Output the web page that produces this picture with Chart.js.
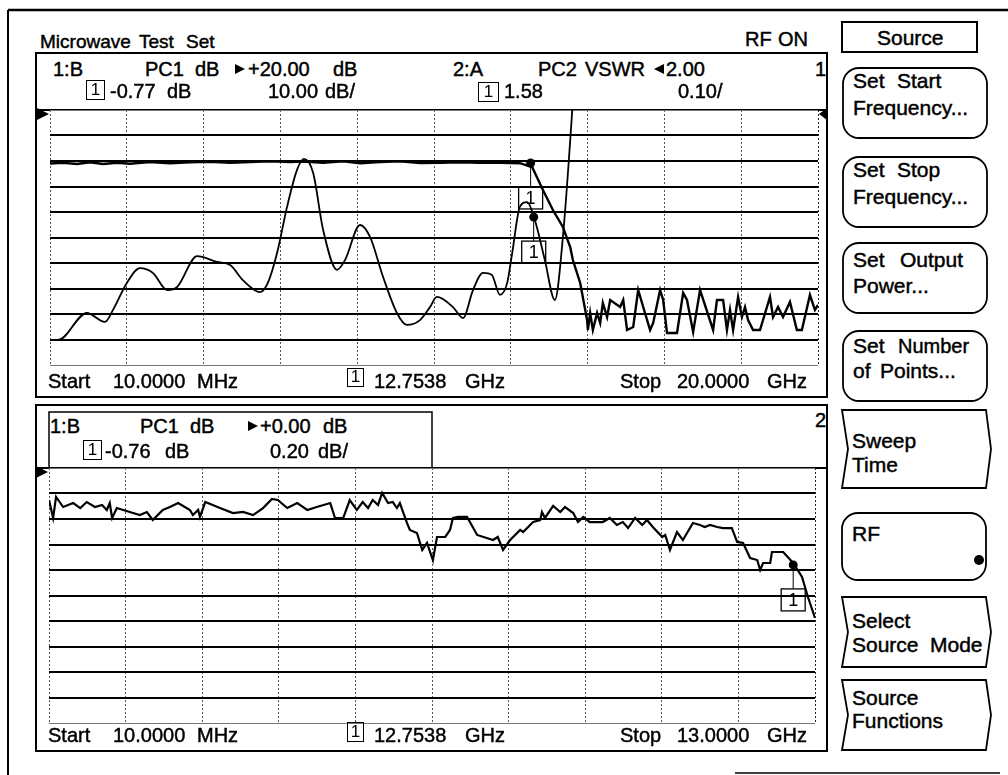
<!DOCTYPE html>
<html>
<head>
<meta charset="utf-8">
<script src="https://cdn.jsdelivr.net/npm/chart.js@4.4.1/dist/chart.umd.min.js"></script>
<style>
  body { margin: 0; background: #fff; }
  #screen { position: relative; width: 1008px; height: 775px; overflow: hidden; background: #fff;
            font-family: "Liberation Sans", Arial, sans-serif; color: #000; }
  #screen canvas, #screen svg { position: absolute; }
  .t { position: absolute; white-space: pre; -webkit-text-stroke: 0.45px #000; }
  .box { position: absolute; border: 1.5px solid #000; box-sizing: border-box; text-align: center;
         font-size: 17px; line-height: 17px; }
</style>
</head>
<body>
<div id="screen">
  <svg id="shapes" width="1008" height="775" style="left:0;top:0"></svg>
  <canvas id="topChart" width="791" height="275" style="left:36px;top:100px;width:791px;height:275px"></canvas>
  <canvas id="botChart" width="791" height="275" style="left:36px;top:458px;width:791px;height:275px"></canvas>
</div>
<script>
// trace 1 (B, PC1 dB), 10 MHz - 20 GHz
const topFreqDb = [0.01,0.35,0.71,1.05,1.39,1.75,2.09,2.61,3.13,3.65,4.17,4.70,5.22,5.74,6.26,6.60,
  7.12,7.64,8.08,8.60,9.12,9.64,10.16,10.68,11.20,11.72,12.24,12.56,12.84,13.10,13.36,13.55,13.62,13.81,13.99,
  14.01,14.07,14.14,14.25,14.33,14.40,14.51,14.59,14.85,14.93,15.03,15.19,15.32,15.45,15.63,15.71,15.89,15.97,
  16.07,16.33,16.49,16.59,16.75,16.93,17.27,17.37,17.53,17.63,17.71,17.79,17.92,18.02,18.10,18.18,18.31,18.49,
  18.75,18.83,18.96,19.09,19.27,19.45,19.58,19.79,19.92,20.00];
const topDb = [-0.98,-0.67,-1.18,-0.51,-1.18,-0.67,-1.06,-0.39,-0.86,-0.51,-0.27,-0.67,-0.39,-0.12,-0.39,-0.2,
  -0.67,-0.12,-0.86,-0.39,-0.12,-0.78,-0.67,-0.51,-0.67,-0.67,-0.86,-2.35,-11.37,-19.22,-25.88,-33.73,-38.82,-47.84,-62.35,
  -66.27,-59.61,-66.27,-59.61,-63.53,-55.69,-61.18,-54.51,-57.25,-54.51,-66.27,-65.10,-50.59,-57.25,-66.27,-63.53,-50.59,-54.51,
  -67.45,-67.45,-51.76,-54.51,-67.06,-50.59,-66.27,-54.51,-54.51,-66.27,-58.43,-66.27,-53.33,-61.18,-57.25,-62.35,-66.27,-66.27,
  -53.33,-61.18,-57.25,-61.18,-55.29,-66.27,-66.27,-52.55,-58.43,-56.47];

// trace 2 (A, PC2 VSWR)
const topFreqVswr = [0.01,0.22,0.97,1.44,1.65,2.01,2.35,2.69,3.06,3.32,3.84,4.36,4.70,5.03,5.48,5.68,5.92,6.18,6.44,6.62,
  6.86,7.12,7.48,7.69,8.08,8.34,8.68,9.04,9.30,9.64,9.90,10.08,10.50,10.76,11.02,11.28,11.51,11.72,11.91,12.04,
  12.24,12.43,12.63,12.89,13.15,13.36,13.60,13.85];
const topVswr = [1.098,1.098,1.204,1.169,1.216,1.322,1.380,1.361,1.294,1.306,1.427,1.404,1.392,1.333,1.286,1.322,1.439,1.620,1.765,1.808,
  1.753,1.529,1.373,1.412,1.549,1.502,1.345,1.204,1.157,1.176,1.227,1.267,1.227,1.184,1.294,1.361,1.353,1.275,1.322,1.439,
  1.620,1.639,1.569,1.412,1.255,1.502,1.992,2.60];

// lower trace (B, PC1 dB), 10 MHz - 13 GHz
const botFreq = [0.01,0.08,0.13,0.25,0.42,0.54,0.65,0.79,0.91,0.99,1.04,1.08,1.16,1.38,1.55,1.67,1.77,1.94,2.06,2.20,
  2.40,2.45,2.54,2.57,2.66,2.91,3.13,3.30,3.47,3.64,3.79,3.89,4.05,4.22,4.39,4.55,4.78,4.86,5.00,5.11,
  5.23,5.33,5.42,5.50,5.59,5.66,5.76,5.84,5.91,5.96,6.08,6.13,6.25,6.34,6.42,6.52,6.59,6.73,6.81,6.86,
  6.95,7.10,7.27,7.54,7.62,7.71,7.83,8.00,8.05,8.22,8.34,8.37,8.42,8.56,8.68,8.76,8.90,8.98,9.07,9.18,
  9.40,9.52,9.64,9.74,9.83,9.95,10.07,10.15,10.25,10.41,10.46,10.54,10.66,10.76,10.93,11.05,11.13,11.22,11.34,11.44,
  11.59,11.68,11.78,11.90,12.02,12.07,12.12,12.24,12.27,12.46,12.63,12.78,12.88,13.00];
const botDb = [-0.251,-0.392,-0.227,-0.306,-0.275,-0.314,-0.267,-0.306,-0.290,-0.329,-0.275,-0.392,-0.314,-0.345,-0.369,-0.345,-0.408,-0.329,-0.306,-0.275,
  -0.329,-0.369,-0.329,-0.384,-0.267,-0.314,-0.353,-0.345,-0.369,-0.314,-0.243,-0.251,-0.314,-0.275,-0.329,-0.306,-0.275,-0.392,-0.392,-0.251,
  -0.329,-0.267,-0.314,-0.251,-0.290,-0.196,-0.275,-0.267,-0.314,-0.275,-0.431,-0.486,-0.510,-0.643,-0.588,-0.722,-0.541,-0.541,-0.486,-0.392,
  -0.384,-0.384,-0.525,-0.565,-0.541,-0.643,-0.565,-0.486,-0.502,-0.424,-0.408,-0.345,-0.392,-0.298,-0.345,-0.306,-0.353,-0.424,-0.384,-0.424,
  -0.424,-0.392,-0.447,-0.424,-0.471,-0.392,-0.447,-0.408,-0.463,-0.541,-0.525,-0.643,-0.502,-0.565,-0.431,-0.447,-0.463,-0.447,-0.463,-0.471,
  -0.471,-0.580,-0.588,-0.706,-0.722,-0.800,-0.745,-0.745,-0.659,-0.659,-0.745,-0.855,-1.012,-1.176];

// sweep and scale settings (start/stop GHz, reference level, per division)
const topSweep = [0.01, 20];
const botSweep = [0.01, 13];
const topDbScale = [20, 10];
const topVswrScale = [2.00, 0.10];
const botDbScale = [0, 0.20];
const divisions = 10;

// marker 1 positions as seen on the traces
const topMarkers = [{ f: 12.52, v: -0.77, axis: 'y' }, { f: 12.60, v: 1.58, axis: 'y2' }];
const botMarkers = [{ f: 12.63, v: -0.76, axis: 'y' }];

function divTicks(axis) {
  const ticks = [];
  for (let i = 0; i <= divisions; i++) ticks.push({ value: axis.min + (axis.max - axis.min) * i / divisions });
  axis.ticks = ticks;
}

function markerPlugin(list, refs) {
  return {
    id: 'markers',
    afterDatasetsDraw(chart) {
      const { ctx, scales, chartArea } = chart;
      ctx.save();
      ctx.fillStyle = '#000';
      ctx.strokeStyle = '#000';
      // reference level arrows
      refs.forEach(r => {
        const y = scales[r.axis].getPixelForValue(r.v) + 4;
        ctx.beginPath();
        if (r.side === 'left') {
          ctx.moveTo(chartArea.left - 13, y - 6);
          ctx.lineTo(chartArea.left - 1, y);
          ctx.lineTo(chartArea.left - 13, y + 6);
        } else {
          ctx.moveTo(chartArea.right + 9, y - 6);
          ctx.lineTo(chartArea.right + 1, y);
          ctx.lineTo(chartArea.right + 9, y + 6);
        }
        ctx.closePath();
        ctx.fill();
      });
      list.forEach(m => {
        const x = scales.x.getPixelForValue(m.f);
        const y = scales[m.axis].getPixelForValue(m.v);
        ctx.beginPath();
        ctx.arc(x, y, 4.5, 0, Math.PI * 2);
        ctx.fill();
        ctx.lineWidth = 1;
        ctx.beginPath();
        ctx.moveTo(x, y);
        ctx.lineTo(x, y + 24);
        ctx.stroke();
        ctx.lineWidth = 1.3;
        ctx.strokeRect(x - 12, y + 24, 24, 22);
        ctx.font = '18px "Liberation Sans", Arial, sans-serif';
        ctx.textAlign = 'center';
        ctx.textBaseline = 'middle';
        ctx.fillText('1', x, y + 36);
      });
      ctx.restore();
    }
  };
}

function xAxis(sweep) {
  return {
    type: 'linear', min: sweep[0], max: sweep[1], afterBuildTicks: divTicks,
    ticks: { display: false },
    grid: { drawTicks: false, color: c => c.index === divisions ? '#222' : '#555', lineWidth: 1 },
    border: { display: false, dash: [2, 2] }
  };
}

function yAxis(scale) {
  return {
    min: scale[0] - scale[1] * divisions, max: scale[0], afterBuildTicks: divTicks,
    ticks: { display: false },
    grid: {
      drawTicks: false,
      color: c => (c.index === 0 || c.index === divisions) ? '#777' : '#000',
      lineWidth: c => (c.index === 0 || c.index === divisions) ? 1 : 2
    },
    border: { display: false }
  };
}

const baseOptions = {
  animation: false, responsive: false, maintainAspectRatio: false,
  plugins: { legend: { display: false }, tooltip: { enabled: false } }
};

new Chart(document.getElementById('topChart'), {
  type: 'line',
  data: {
    datasets: [
      { data: topFreqDb.map((f, i) => ({ x: f, y: topDb[i] })), yAxisID: 'y',
        borderColor: '#000', borderWidth: 2.4, pointRadius: 0, tension: 0 },
      { data: topFreqVswr.map((f, i) => ({ x: f, y: topVswr[i] })), yAxisID: 'y2',
        borderColor: '#000', borderWidth: 1.8, pointRadius: 0, cubicInterpolationMode: 'monotone' }
    ]
  },
  options: {
    ...baseOptions,
    layout: { padding: { left: 14, right: 9, top: 10, bottom: 10 } },
    scales: {
      x: xAxis(topSweep),
      y: yAxis(topDbScale),
      y2: { display: false, min: topVswrScale[0] - topVswrScale[1] * divisions, max: topVswrScale[0] }
    }
  },
  plugins: [markerPlugin(topMarkers, [
    { axis: 'y', v: topDbScale[0], side: 'left' },
    { axis: 'y2', v: topVswrScale[0], side: 'right' }
  ])]
});

new Chart(document.getElementById('botChart'), {
  type: 'line',
  data: {
    datasets: [
      { data: botFreq.map((f, i) => ({ x: f, y: botDb[i] })), yAxisID: 'y',
        borderColor: '#000', borderWidth: 2.2, pointRadius: 0, tension: 0 }
    ]
  },
  options: {
    ...baseOptions,
    layout: { padding: { left: 13, right: 12, top: 10, bottom: 10 } },
    scales: { x: xAxis(botSweep), y: yAxis(botDbScale) }
  },
  plugins: [markerPlugin(botMarkers, [{ axis: 'y', v: botDbScale[0], side: 'left' }])]
});

// frames, softkeys
const svg = document.getElementById('shapes');
let s = '';
const line = (x1, y1, x2, y2, w) => s += `<line x1="${x1}" y1="${y1}" x2="${x2}" y2="${y2}" stroke="#000" stroke-width="${w}"/>`;
const rect = (x, y, w, h, sw, rx) => s += `<rect x="${x}" y="${y}" width="${w}" height="${h}" rx="${rx || 0}" fill="none" stroke="#000" stroke-width="${sw}"/>`;
const chevron = (y0, y1) => {
  const m = (y0 + y1) / 2;
  s += `<polygon points="842,${y0} 986,${y0} 991,${m} 986,${y1} 842,${y1} 848,${m}" fill="none" stroke="#000" stroke-width="1.8"/>`;
};
line(8, 10, 1008, 10, 2.5);
line(8, 10, 8, 775, 2);
line(735, 773, 1000, 773, 1.5);
rect(36, 53, 791, 344, 2);
line(36, 110, 827, 110, 2);
rect(36, 405, 791, 346, 2);
rect(49, 412, 383, 56, 1.5);
line(36, 468, 827, 468, 2);
s += `<polygon points="235,64 245,69 235,74" fill="#000"/>`;
s += `<polygon points="664,64 654,69 664,74" fill="#000"/>`;
s += `<polygon points="248,421 258,426 248,431" fill="#000"/>`;
rect(842, 22, 135, 30, 2);
[68, 157, 243, 331].forEach(y => rect(843, y, 144, 70, 1.8, 16));
chevron(410, 488);
rect(842, 513, 144, 67, 1.8, 16);
s += `<circle cx="979" cy="560" r="5" fill="#000"/>`;
chevron(597, 667);
chevron(680, 750);
svg.innerHTML = s;

// text: [string, left, baseline, size]
const texts = [
  ['Microwave', 40, 48, 19], ['Test', 139, 48, 19], ['Set', 186, 48, 19], ['RF', 745, 46], ['ON', 778, 46],
  ['1:B', 53, 76], ['PC1', 145, 76], ['dB', 195, 76], ['+20.00', 248, 76], ['dB', 333, 76],
  ['2:A', 453, 76], ['PC2', 538, 76], ['VSWR', 585, 76], ['2.00', 666, 76], ['1', 815, 76],
  ['-0.77', 110, 98], ['dB', 167, 98], ['10.00', 268, 98], ['dB/', 325, 98], ['1.58', 504, 98], ['0.10/', 678, 98],
  ['Start', 48, 388], ['10.0000', 113, 388], ['MHz', 197, 388], ['12.7538', 374, 388], ['GHz', 465, 388],
  ['Stop', 620, 388], ['20.0000', 677, 388], ['GHz', 767, 388],
  ['1:B', 50, 433], ['PC1', 140, 433], ['dB', 190, 433], ['+0.00', 260, 433], ['dB', 323, 433], ['2', 815, 427],
  ['-0.76', 105, 458], ['dB', 165, 458], ['0.20', 270, 458], ['dB/', 318, 458],
  ['Start', 48, 742], ['10.0000', 113, 742], ['MHz', 197, 742], ['12.7538', 374, 742], ['GHz', 465, 742],
  ['Stop', 620, 742], ['13.0000', 677, 742], ['GHz', 767, 742],
  ['Source', 877, 45, 21],
  ['Set', 853, 88, 21], ['Start', 897, 88, 21], ['Frequency...', 853, 115, 21],
  ['Set', 853, 177, 21], ['Stop', 897, 177, 21], ['Frequency...', 853, 204, 21],
  ['Set', 853, 267, 21], ['Output', 900, 267, 21], ['Power...', 853, 293, 21],
  ['Set', 853, 353, 21], ['Number', 898, 353, 20], ['of', 853, 378, 21], ['Points...', 880, 378, 21],
  ['Sweep', 852, 448, 21], ['Time', 852, 472, 21],
  ['RF', 852, 541, 21],
  ['Select', 852, 628, 21], ['Source', 852, 652, 21], ['Mode', 930, 652, 21],
  ['Source', 852, 705, 21], ['Functions', 852, 728, 21]
];
const screen = document.getElementById('screen');
texts.forEach(([str, x, base, size = 20]) => {
  const d = document.createElement('div');
  d.className = 't';
  d.textContent = str;
  d.style.fontSize = size + 'px';
  d.style.lineHeight = size + 'px';
  d.style.left = x + 'px';
  d.style.top = (base - 0.8465 * size) + 'px';
  screen.appendChild(d);
});

// boxed marker numbers in the readouts
[[86, 80, 19, 20], [478, 82, 21, 20], [347, 368, 17, 19], [83, 440, 19, 20], [347, 722, 17, 20]].forEach(([x, y, w, h]) => {
  const b = document.createElement('div');
  b.className = 'box';
  b.textContent = '1';
  Object.assign(b.style, { left: x + 'px', top: y + 'px', width: w + 'px', height: h + 'px', lineHeight: (h - 3) + 'px' });
  screen.appendChild(b);
});
</script>
</body>
</html>
